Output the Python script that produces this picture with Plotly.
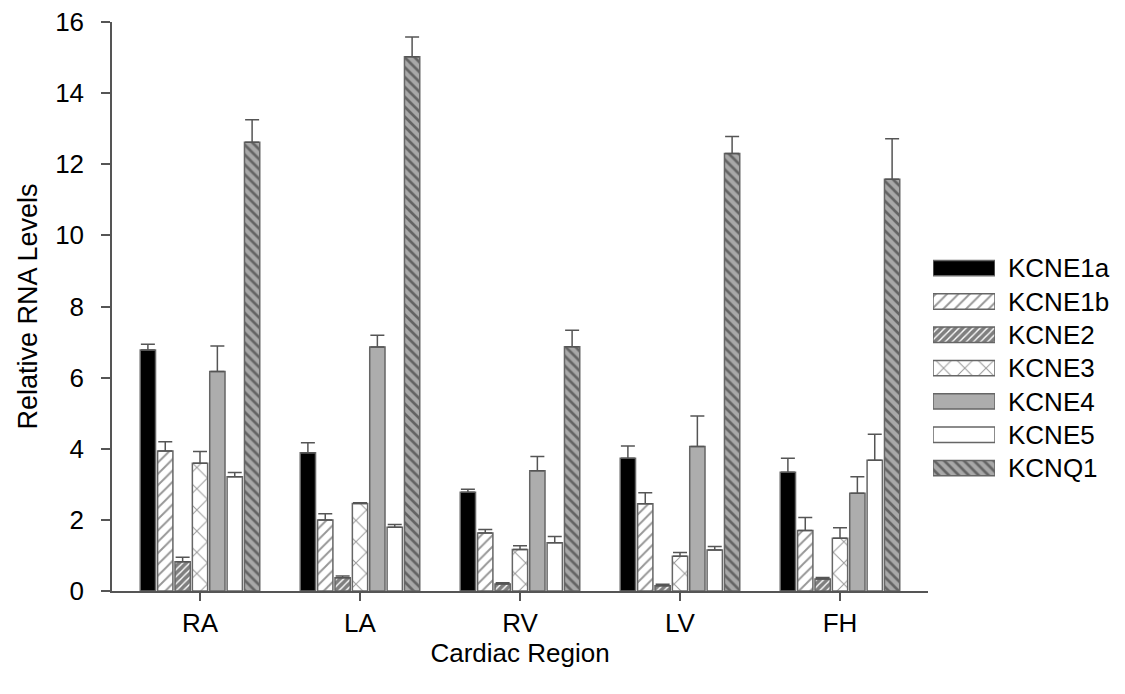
import plotly.graph_objects as go

# Relative RNA levels by cardiac region (mean and upper SEM)
regions = ["RA", "LA", "RV", "LV", "FH"]
genes = ["KCNE1a", "KCNE1b", "KCNE2", "KCNE3", "KCNE4", "KCNE5", "KCNQ1"]

kcne1a = [6.78, 3.89, 2.78, 3.73, 3.34]
kcne1a_err = [0.16, 0.28, 0.08, 0.35, 0.39]
kcne1b = [3.94, 2.00, 1.63, 2.45, 1.70]
kcne1b_err = [0.26, 0.17, 0.10, 0.31, 0.37]
kcne2 = [0.82, 0.37, 0.20, 0.15, 0.34]
kcne2_err = [0.13, 0.05, 0.03, 0.04, 0.04]
kcne3 = [3.59, 2.46, 1.17, 0.98, 1.48]
kcne3_err = [0.33, 0.02, 0.10, 0.10, 0.30]
kcne4 = [6.17, 6.86, 3.38, 4.06, 2.75]
kcne4_err = [0.72, 0.33, 0.40, 0.86, 0.46]
kcne5 = [3.21, 1.79, 1.36, 1.15, 3.68]
kcne5_err = [0.12, 0.08, 0.17, 0.10, 0.73]
kcnq1 = [12.62, 15.02, 6.87, 12.30, 11.58]
kcnq1_err = [0.63, 0.56, 0.46, 0.48, 1.14]

y_ticks = [0, 2, 4, 6, 8, 10, 12, 14, 16]

values = [kcne1a, kcne1b, kcne2, kcne3, kcne4, kcne5, kcnq1]
errors = [kcne1a_err, kcne1b_err, kcne2_err, kcne3_err, kcne4_err, kcne5_err, kcnq1_err]

OUTLINE = "#666666"
FONT = "Liberation Sans, Arial, sans-serif"

styles = [
    dict(color="#000000", pattern=dict(shape="")),
    dict(color="#ffffff", pattern=dict(shape="/", fgcolor="#2e2e2e", bgcolor="#ffffff",
                                       size=8, solidity=0.24)),
    dict(color="#ffffff", pattern=dict(shape="/", fgcolor="#000000", bgcolor="#ffffff",
                                       size=5, solidity=0.72)),
    dict(color="#ffffff", pattern=dict(shape="x", fgcolor="#333333", bgcolor="#ffffff",
                                       size=15, solidity=0.13)),
    dict(color="#adadad", pattern=dict(shape="")),
    dict(color="#ffffff", pattern=dict(shape="")),
    dict(color="#a8a8a8", pattern=dict(shape="\\", fgcolor="#1e1e1e", bgcolor="#a8a8a8",
                                       size=7, solidity=0.38)),
]

fig = go.Figure()

for name, vals, errs, st in zip(genes, values, errors, styles):
    fig.add_trace(go.Bar(
        x=regions, y=vals, name=name,
        marker=dict(color=st["color"], pattern=st["pattern"],
                    line=dict(color=OUTLINE, width=1.5)),
        error_y=dict(type="data", array=errs, arrayminus=[0] * len(errs),
                     symmetric=False, color="#555555", thickness=1.5, width=7),
        showlegend=False,
        xaxis="x", yaxis="y",
    ))

# Key drawn as a small bar panel beside the plot
legend_swatch_len = 1
for name, st in zip(genes, styles):
    fig.add_trace(go.Bar(
        x=[legend_swatch_len], y=[name], orientation="h",
        width=0.46, offset=-0.23,
        marker=dict(color=st["color"], pattern=st["pattern"],
                    line=dict(color=OUTLINE, width=1.5)),
        showlegend=False, hoverinfo="skip",
        xaxis="x2", yaxis="y2",
    ))

plot_w = 1125 - 112 - 15
fig.update_layout(
    width=1125, height=694,
    margin=dict(l=112, r=15, t=22, b=103),
    paper_bgcolor="white", plot_bgcolor="white",
    barmode="group", bargap=0.24, bargroupgap=0.12,
    font=dict(family=FONT, color="#000000"),
    xaxis=dict(
        domain=[0, 816 / plot_w],
        range=[-0.55, 4.55], automargin=False,
        showline=True, linecolor="#555555", linewidth=1.5,
        ticks="outside", ticklen=8, tickcolor="#555555", tickwidth=1.5,
        tickfont=dict(size=26), ticklabelstandoff=0,
        showgrid=False, zeroline=False,
        title=dict(text="Cardiac Region", font=dict(size=26), standoff=7),
    ),
    yaxis=dict(
        range=[0, 16], tickvals=y_ticks, automargin=False,
        showline=True, linecolor="#555555", linewidth=1.5,
        ticks="outside", ticklen=9, tickcolor="#555555", tickwidth=1.5,
        tickfont=dict(size=26), ticklabelstandoff=12,
        showgrid=False, zeroline=False,
        title=dict(text="Relative RNA Levels", font=dict(size=27), standoff=10),
    ),
    xaxis2=dict(
        domain=[(933 - 112) / plot_w, (995 - 112) / plot_w],
        range=[0, legend_swatch_len], anchor="y2",
        visible=False, fixedrange=True,
    ),
    yaxis2=dict(
        domain=[(591 - 484.7) / 569, (591 - 251.5) / 569],
        anchor="x2", side="right", automargin=False,
        categoryorder="array", categoryarray=genes[::-1],
        showline=False, showgrid=False, zeroline=False, ticks="",
        tickfont=dict(size=26), ticklabelstandoff=12,
    ),
)

fig.write_html("out.html")
